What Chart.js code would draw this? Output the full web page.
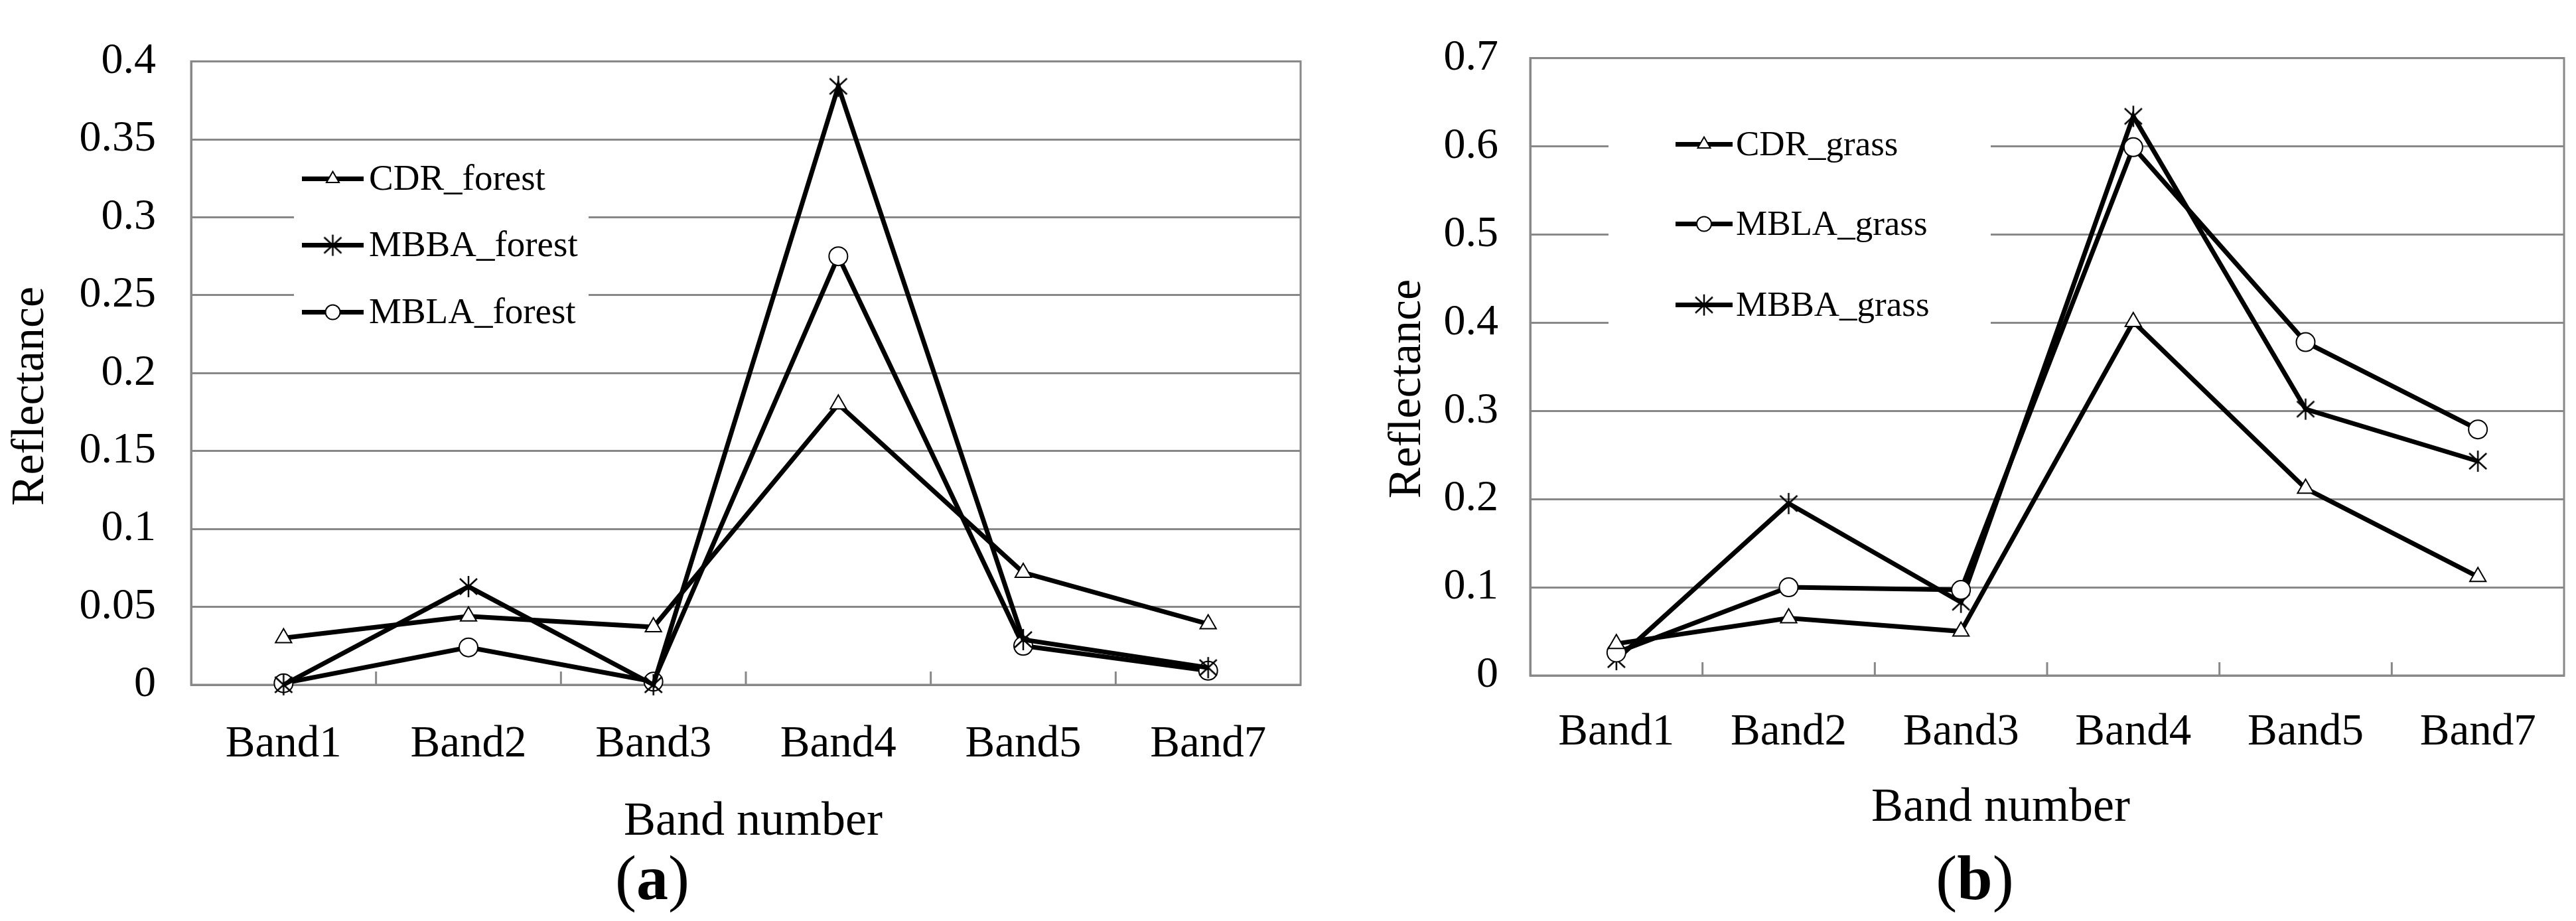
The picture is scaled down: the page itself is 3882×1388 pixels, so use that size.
<!DOCTYPE html>
<html>
<head>
<meta charset="utf-8">
<script src="https://cdn.jsdelivr.net/npm/chart.js@4.4.1/dist/chart.umd.min.js"></script>
<style>
  body { margin: 0; width: 3882px; height: 1388px; overflow: hidden; background: #fff; position: relative; }
  canvas { position: absolute; top: 0; }
  #chartA { left: 0; }
  #chartB { left: 1980px; }
  .caption { position: absolute; top: 1270px; font-family: "Liberation Serif", "Times New Roman", serif; font-size: 96px; line-height: 106px; color: #000; transform: translateX(-50%); }
</style>
</head>
<body>
<canvas id="chartA" width="1980" height="1290"></canvas>
<canvas id="chartB" width="1902" height="1290"></canvas>
<div class="caption" style="left:983px">(<b>a</b>)</div>
<div class="caption" style="left:2976px">(<b>b</b>)</div>
<script>
// band labels shared by both panels
const bands = ['Band1', 'Band2', 'Band3', 'Band4', 'Band5', 'Band7'];
const xTitle = 'Band number';
const yTitle = 'Reflectance';

// (a) forest
const cdrForest = [0.030, 0.044, 0.037, 0.180, 0.072, 0.039];
const mbbaForest = [0.000, 0.063, 0.000, 0.384, 0.029, 0.011];
const mblaForest = [0.001, 0.024, 0.002, 0.275, 0.025, 0.009];
const forestTicks = [0, 0.05, 0.1, 0.15, 0.2, 0.25, 0.3, 0.35, 0.4];

// (b) grass
const cdrGrass = [0.036, 0.065, 0.050, 0.401, 0.212, 0.112];
const mblaGrass = [0.026, 0.100, 0.097, 0.599, 0.378, 0.279];
const mbbaGrass = [0.018, 0.195, 0.083, 0.634, 0.302, 0.243];
const grassTicks = [0, 0.1, 0.2, 0.3, 0.4, 0.5, 0.6, 0.7];

const SERIF = '"Liberation Serif", "Times New Roman", serif';
const GRID = '#888888';

// asterisk marker like the excel one: vertical bar + X
const star = (() => {
  const c = document.createElement('canvas');
  c.width = 32; c.height = 34;
  const g = c.getContext('2d');
  g.strokeStyle = '#000';
  g.lineWidth = 2.5;
  g.beginPath();
  g.moveTo(16, 1); g.lineTo(16, 33);
  g.moveTo(3, 5); g.lineTo(29, 29);
  g.moveTo(29, 5); g.lineTo(3, 29);
  g.stroke();
  return c;
})();

const markers = {
  triangle: { pointStyle: 'triangle', pointRadius: 14 },
  circle: { pointStyle: 'circle', pointRadius: 14 },
  star: { pointStyle: star, pointRadius: 16 }
};

function series(label, data, marker) {
  return {
    label,
    data,
    borderColor: '#000',
    borderWidth: 7,
    pointBackgroundColor: '#fff',
    pointBorderColor: '#000',
    pointBorderWidth: 2,
    pointHoverRadius: markers[marker].pointRadius,
    clip: false,
    ...markers[marker]
  };
}

// frame, inner tick marks and the boxed legend inside the plot
const framePlugin = {
  id: 'frame',
  beforeDatasetsDraw(chart, args, opts) {
    const { ctx, chartArea: a } = chart;
    const x = chart.scales.x;
    ctx.save();
    ctx.strokeStyle = GRID;
    ctx.lineWidth = 3;
    ctx.strokeRect(a.left, a.top, a.right - a.left, a.bottom - a.top);
    ctx.beginPath();
    for (let i = 1; i < bands.length; i++) {
      const px = (x.getPixelForValue(i - 1) + x.getPixelForValue(i)) / 2;
      ctx.moveTo(px, a.bottom);
      ctx.lineTo(px, a.bottom - 20);
    }
    ctx.stroke();

    // legend
    const L = opts.legend;
    ctx.fillStyle = '#fff';
    ctx.fillRect(a.left + L.box[0], a.top + L.box[1], L.box[2] - L.box[0], L.box[3] - L.box[1]);
    ctx.font = L.fontSize + 'px ' + SERIF;
    ctx.textBaseline = 'middle';
    ctx.textAlign = 'left';
    chart.data.datasets.forEach((ds, i) => {
      const y = a.top + L.rows[i];
      ctx.strokeStyle = '#000';
      ctx.lineWidth = 7;
      ctx.beginPath();
      ctx.moveTo(a.left + L.line[0], y);
      ctx.lineTo(a.left + L.line[1], y);
      ctx.stroke();
      ctx.fillStyle = '#fff';
      ctx.lineWidth = 2;
      const mx = a.left + (L.line[0] + L.line[1]) / 2;
      Chart.helpers.drawPoint(ctx, { pointStyle: ds.pointStyle, radius: ds.pointStyle === star ? 12 : 11, rotation: 0, borderWidth: 2 }, mx, y);
      ctx.fillStyle = '#000';
      ctx.fillText(ds.label, a.left + L.text, y + 2);
    });
    ctx.restore();
  },
  // axis titles sit a little off-centre in the original, so place them here
  afterDraw(chart, args, opts) {
    const { ctx } = chart;
    const T = opts.titles;
    ctx.save();
    ctx.fillStyle = '#000';
    ctx.textAlign = 'center';
    ctx.textBaseline = 'middle';
    ctx.font = '72px ' + SERIF;
    ctx.fillText(xTitle, T.x[0], T.x[1]);
    ctx.translate(T.y[0], T.y[1]);
    ctx.rotate(-Math.PI / 2);
    ctx.font = '70px ' + SERIF;
    ctx.fillText(yTitle, 0, 0);
    ctx.restore();
  }
};

function makeChart(id, datasets, ticks, geo) {
  return new Chart(document.getElementById(id), {
    type: 'line',
    data: { labels: bands, datasets },
    plugins: [framePlugin],
    options: {
      responsive: false,
      animation: false,
      layout: { padding: geo.padding },
      plugins: {
        legend: { display: false },
        tooltip: { enabled: false },
        frame: { legend: geo.legend, titles: geo.titles }
      },
      scales: {
        x: {
          offset: true,
          grid: { display: false, drawTicks: false },
          border: { display: true, color: GRID, width: 3 },
          ticks: { color: '#000', padding: geo.xPad, font: { family: SERIF, size: 67 } },
          afterFit: s => { s.height = geo.xHeight; }
        },
        y: {
          min: ticks[0],
          max: ticks[ticks.length - 1],
          afterBuildTicks: s => { s.ticks = ticks.map(v => ({ value: v })); },
          grid: { color: GRID, lineWidth: 3, drawTicks: false },
          border: { display: true, color: GRID, width: 3 },
          ticks: { color: '#000', padding: geo.yPad, font: { family: SERIF, size: 66 }, callback: v => String(+v.toFixed(2)) },
          afterFit: s => { s.width = geo.yWidth; }
        }
      }
    }
  });
}

makeChart('chartA', [
  series('CDR_forest', cdrForest, 'triangle'),
  series('MBBA_forest', mbbaForest, 'star'),
  series('MBLA_forest', mblaForest, 'circle')
], forestTicks, {
  padding: { left: 0, top: 45, right: 20, bottom: 0 },
  yWidth: 288, xHeight: 258, xPad: 50, yPad: 53,
  titles: { x: [1135, 1239], y: [47, 597] },
  legend: { box: [155, 135, 599, 425], line: [167, 260], text: 268, rows: [177, 277, 378], fontSize: 55 }
});

makeChart('chartB', [
  series('CDR_grass', cdrGrass, 'triangle'),
  series('MBLA_grass', mblaGrass, 'circle'),
  series('MBBA_grass', mbbaGrass, 'star')
], grassTicks, {
  padding: { left: 100, top: 50, right: 13, bottom: 0 },
  yWidth: 226, xHeight: 272, xPad: 46, yPad: 48,
  titles: { x: [1035, 1218], y: [142, 586] },
  legend: { box: [118, 80, 694, 440], line: [219, 305], text: 310, rows: [130, 250, 372], fontSize: 53 }
});
</script>
</body>
</html>
